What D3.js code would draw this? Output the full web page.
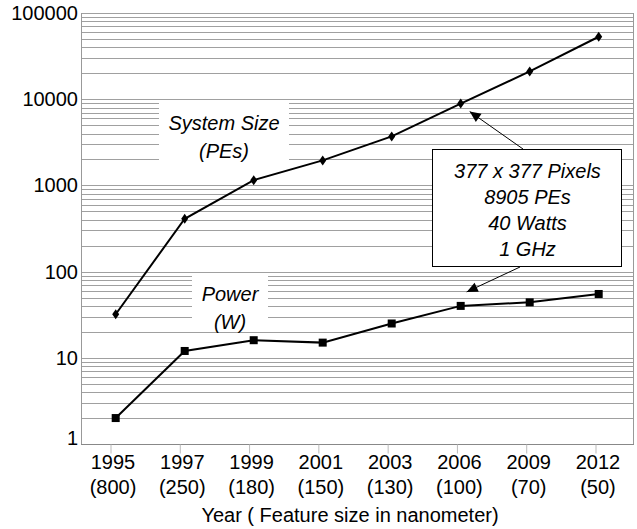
<!DOCTYPE html>
<html>
<head>
<meta charset="utf-8">
<script src="https://cdn.jsdelivr.net/npm/d3@7"></script>
<style>
  body { margin: 0; background: #fff; }
  text { font-family: "Liberation Sans", Arial, sans-serif; fill: #000; }
</style>
</head>
<body>
<svg></svg>
<script>
// system size (PEs) and power (W) per technology year, log scale

var width = 637,
    height = 529;

var years = ["1995", "1997", "1999", "2001", "2003", "2006", "2009", "2012"];
var featureSizes = ["(800)", "(250)", "(180)", "(150)", "(130)", "(100)", "(70)", "(50)"];
var systemSize = [32, 410, 1150, 1950, 3700, 8905, 21000, 53000];
var power = [2, 12, 16, 15, 25, 40, 44, 55];
var yTickValues = [1, 10, 100, 1000, 10000, 100000];
var annotationLines = ["377 x 377 Pixels", "8905 PEs", "40 Watts", "1 GHz"];

var plotLeft = 81, plotRight = 633, plotTop = 13, plotBottom = 444;

var svg = d3.select('svg')
            .attr('width', width)
            .attr('height', height);

// points sit a bit right of the category ticks in the original
const x = d3.scalePoint()
  .domain(years)
  .range([115.7, 598.7]);

const xTick = d3.scalePoint()
  .domain(years)
  .range([110.5, 595.5]);

const y = d3.scaleLog()
  .domain([1, 100000])
  .range([plotBottom, plotTop]);

// grid lines 1..9 per decade
var gridVals = [];
for (var k = 0; k < 5; k++) {
  for (var m = 1; m < 10; m++) gridVals.push(m * Math.pow(10, k));
}
gridVals.push(100000);

svg.append("g")
  .selectAll("line")
  .data(gridVals)
  .enter()
  .append("line")
    .attr("x1", plotLeft)
    .attr("x2", plotRight)
    .attr("y1", d => Math.round(y(d)) + 0.5)
    .attr("y2", d => Math.round(y(d)) + 0.5)
    .attr("stroke", "#a0a0a0")
    .attr("stroke-width", 1);

// frame
svg.append("line")
  .attr("x1", plotLeft + 0.5).attr("x2", plotLeft + 0.5)
  .attr("y1", plotTop).attr("y2", plotBottom)
  .attr("stroke", "#999");
svg.append("line")
  .attr("x1", plotRight + 0.5).attr("x2", plotRight + 0.5)
  .attr("y1", plotTop).attr("y2", plotBottom)
  .attr("stroke", "#999");

// x axis
var xAxis = svg.append("g")
  .attr("transform", "translate(0," + (plotBottom + 0.5) + ")")
  .call(d3.axisBottom(xTick).tickSize(9).tickFormat(""));
xAxis.select(".domain")
  .attr("d", "M" + plotLeft + ",0H" + (plotRight + 1))
  .attr("stroke", "#888");
xAxis.selectAll(".tick line").attr("stroke", "#bbb");

svg.append("g")
  .selectAll("text")
  .data(years)
  .enter()
  .append("text")
    .attr("x", d => xTick(d) + 2.5)
    .attr("y", 469)
    .attr("text-anchor", "middle")
    .style("font-size", "20px")
    .text(d => d);

svg.append("g")
  .selectAll("text")
  .data(featureSizes)
  .enter()
  .append("text")
    .attr("x", (d, i) => xTick(years[i]) + 2.5)
    .attr("y", 494)
    .attr("text-anchor", "middle")
    .style("font-size", "20px")
    .text(d => d);

svg.append("text")
  .attr("x", 350)
  .attr("y", 522)
  .attr("text-anchor", "middle")
  .style("font-size", "20px")
  .text("Year ( Feature size in nanometer)");

// y labels (the bottom one sits on the axis line)
svg.append("g")
  .selectAll("text")
  .data(yTickValues)
  .enter()
  .append("text")
    .attr("x", 78)
    .attr("y", d => y(d) + (d === 1 ? 1 : 7))
    .attr("text-anchor", "end")
    .style("font-size", "20px")
    .text(d => String(d));

// series label boxes
function labelBox(x0, y0, w, h, lines, base, step) {
  svg.append("rect")
    .attr("x", x0).attr("y", y0)
    .attr("width", w).attr("height", h)
    .attr("fill", "#fff");
  lines.forEach(function(t, i) {
    svg.append("text")
      .attr("x", x0 + w / 2)
      .attr("y", base + i * step)
      .attr("text-anchor", "middle")
      .style("font-size", "20px")
      .style("font-style", "italic")
      .text(t);
  });
}
labelBox(159, 103, 130, 58, ["System Size", "(PEs)"], 130, 28);
labelBox(192, 275, 76, 57, ["Power", "(W)"], 301, 28);

// lines
var line = d3.line()
  .x((d, i) => x(years[i]))
  .y(d => y(d));

svg.append("path")
  .datum(systemSize)
  .attr("d", line)
  .attr("fill", "none")
  .attr("stroke", "#000")
  .attr("stroke-width", 2);

svg.append("path")
  .datum(power)
  .attr("d", line)
  .attr("fill", "none")
  .attr("stroke", "#000")
  .attr("stroke-width", 2);

// diamonds
svg.append("g")
  .selectAll("path")
  .data(systemSize)
  .enter()
  .append("path")
    .attr("transform", (d, i) => "translate(" + x(years[i]) + "," + y(d) + ")")
    .attr("d", "M0,-5L3.5,0L0,5L-3.5,0Z")
    .attr("fill", "#000");

// squares
svg.append("g")
  .selectAll("rect")
  .data(power)
  .enter()
  .append("rect")
    .attr("x", (d, i) => x(years[i]) - 4)
    .attr("y", d => y(d) - 4)
    .attr("width", 8)
    .attr("height", 8)
    .attr("fill", "#000");

// annotation for the 2006 design point
var boxX = 432, boxY = 149, boxW = 189, boxH = 117;

svg.append("rect")
  .attr("x", boxX + 0.5).attr("y", boxY + 0.5)
  .attr("width", boxW).attr("height", boxH)
  .attr("fill", "#fff")
  .attr("stroke", "#000")
  .attr("stroke-width", 1);

annotationLines.forEach(function(t, i) {
  svg.append("text")
    .attr("x", boxX + boxW / 2 + 1)
    .attr("y", 178 + i * 26)
    .attr("text-anchor", "middle")
    .style("font-size", "20px")
    .style("font-style", "italic")
    .text(t);
});

function arrow(x1, y1, x2, y2) {
  svg.append("line")
    .attr("x1", x1).attr("y1", y1)
    .attr("x2", x2).attr("y2", y2)
    .attr("stroke", "#000")
    .attr("stroke-width", 1);
  var a = Math.atan2(y2 - y1, x2 - x1);
  var len = 11, half = 5;
  var bx = x2 - len * Math.cos(a), by = y2 - len * Math.sin(a);
  var px = -Math.sin(a) * half, py = Math.cos(a) * half;
  svg.append("path")
    .attr("d", "M" + x2 + "," + y2 + "L" + (bx + px) + "," + (by + py) +
               "L" + (bx - px) + "," + (by - py) + "Z")
    .attr("fill", "#000");
}

var sx = x("2006"), sy = y(8905), pw = y(40);
arrow(523, boxY, sx + 9, sy + 8);
arrow(520, boxY + boxH + 1, sx + 6, pw - 14);
</script>
</body>
</html>
